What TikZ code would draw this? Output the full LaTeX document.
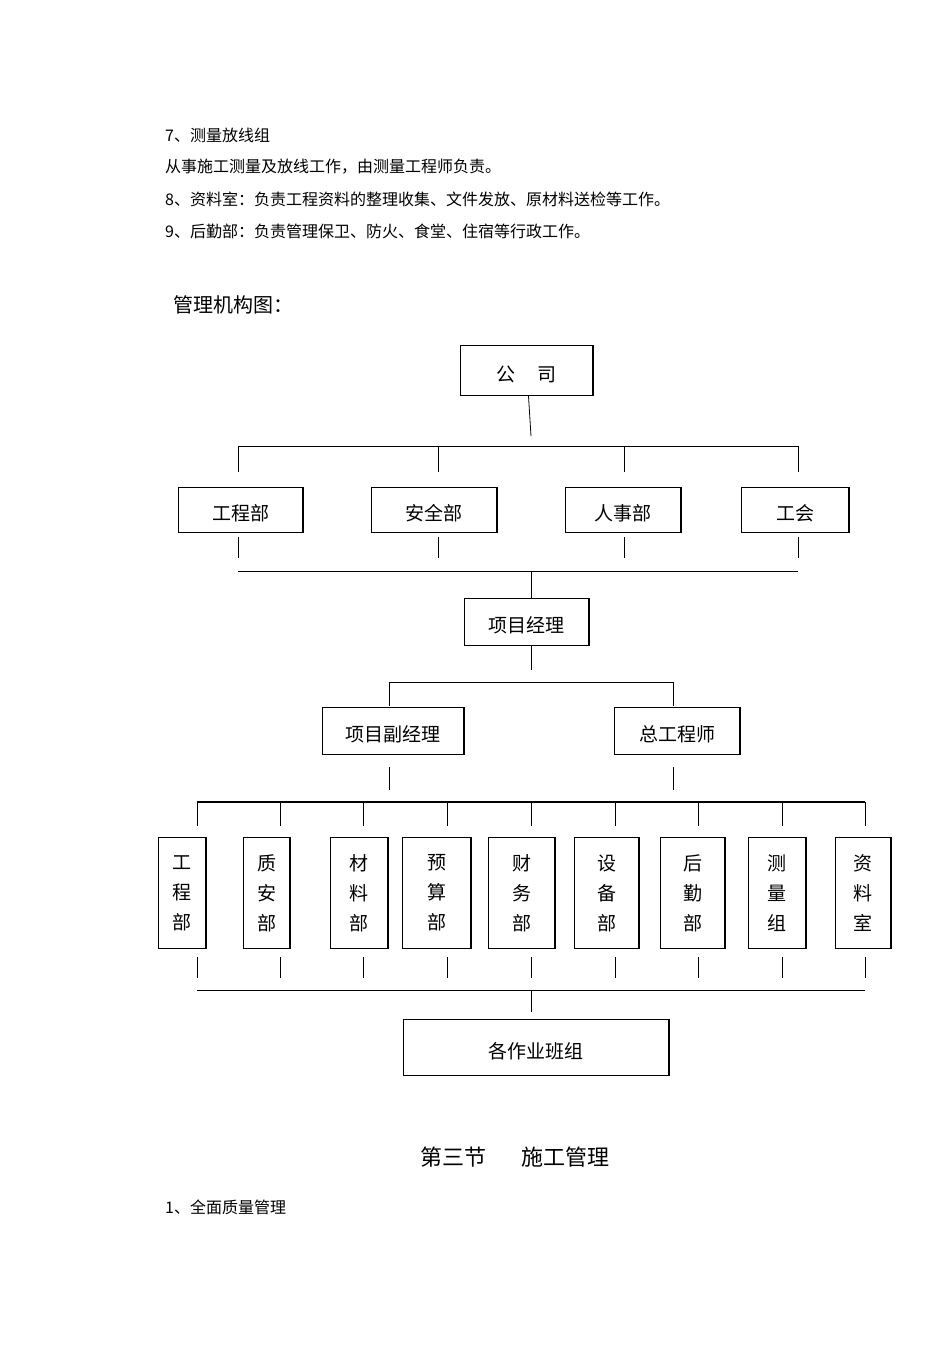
\documentclass[tikz,border=0pt]{standalone}
\usepackage{fontspec}
\setmainfont{Noto Sans CJK SC}
\begin{document}
\begin{tikzpicture}[x=1pt,y=-1pt,
  box/.style={draw,line width=0.8pt,inner sep=0pt,anchor=north west},
  ln/.style={line width=0.8pt},
  txt/.style={anchor=west,inner sep=0pt,font=\fontsize{16}{18}\selectfont}]
\useasboundingbox (0,0) rectangle (950,1345);
\node[txt] (t1) at (165,135) {7、测量放线组};
\node[txt] (t2) at (165,167) {从事施工测量及放线工作，由测量工程师负责。};
\node[txt] (t3) at (165,199) {8、资料室：负责工程资料的整理收集、文件发放、原材料送检等工作。};
\node[txt] (t4) at (165,231) {9、后勤部：负责管理保卫、防火、食堂、住宿等行政工作。};
\node[txt,font=\fontsize{20}{22}\selectfont] (t5) at (173,305) {管理机构图：};
% boxes
\newcommand{\bx}[6]{%
  \node[box,minimum width=#4-#2,minimum height=#5-#3] (#1) at (#2,#3) {};
  \draw[line width=2pt] (#4,#3) -- (#4,#5);
  \node[font=\fontsize{19}{21}\selectfont] (#1t) at ({(#2+#4)/2},{(#3+#5)/2+4}) {#6};}
\bx{gs}{460}{345}{593}{395}{公\hspace{1.2em}司}
\bx{a1}{178}{487}{303}{532}{工程部}
\bx{a2}{371}{487}{497}{532}{安全部}
\bx{a3}{565}{487}{681}{532}{人事部}
\bx{a4}{741}{487}{849}{532}{工会}
\bx{pm}{464}{598}{589}{645}{项目经理}
\bx{fm}{322}{707}{464}{754}{项目副经理}
\bx{ce}{614}{707}{740}{754}{总工程师}
\bx{bz}{403}{1019}{669}{1075}{各作业班组}
\newcommand{\vb}[5]{%
  \node[box,minimum width=#3-#2,minimum height=111] (#1) at (#2,837) {};
  \draw[line width=1.6pt] (#3,837) -- (#3,948);
  \node[font=\fontsize{19}{21}\selectfont,align=center] (#1t) at ({(#2+#3)/2},893) {#4\\[9pt]#5};}
\vb{v1}{158}{206}{工\\[9pt]程}{部}
\vb{v2}{243}{290}{质\\[9pt]安}{部}
\vb{v3}{330}{388}{材\\[9pt]料}{部}
\vb{v4}{402}{471}{预\\[9pt]算}{部}
\vb{v5}{488}{555}{财\\[9pt]务}{部}
\vb{v6}{574}{639}{设\\[9pt]备}{部}
\vb{v7}{660}{725}{后\\[9pt]勤}{部}
\vb{v8}{748}{806}{测\\[9pt]量}{组}
\vb{v9}{835}{891}{资\\[9pt]料}{室}
% connectors
\coordinate (j1) at (531,436);
\draw[ln] (gs) -- (j1);
\draw[ln] (238,446) -- (798,446);
\foreach \x in {238,438,624,798} {\draw[ln] (\x,446) -- (\x,472); \draw[ln] (\x,537) -- (\x,558);}
\draw[ln] (238,571) -- (798,571);
\draw[ln] (531,571) -- (pm.north -| 531,0);
\draw[ln] (531,645) -- (531,670);
\draw[ln] (389,682) -- (673,682);
\foreach \x in {389,673} {\draw[ln] (\x,682) -- (\x,706); \draw[ln] (\x,767) -- (\x,790);}
\draw[line width=1.6pt] (197,802) -- (865,802);
\foreach \x in {197,280,363,447,531,615,698,782,865} {\draw[ln] (\x,802) -- (\x,826); \draw[ln] (\x,957) -- (\x,978);}
\draw[ln] (197,990) -- (865,990);
\draw[ln] (531,990) -- (531,1012);
\node[font=\fontsize{22}{24}\selectfont] (h1) at (515,1157) {第三节\hspace{1.6em}施工管理};
\node[txt] (t6) at (165,1207) {1、全面质量管理};
\end{tikzpicture}
\end{document}
